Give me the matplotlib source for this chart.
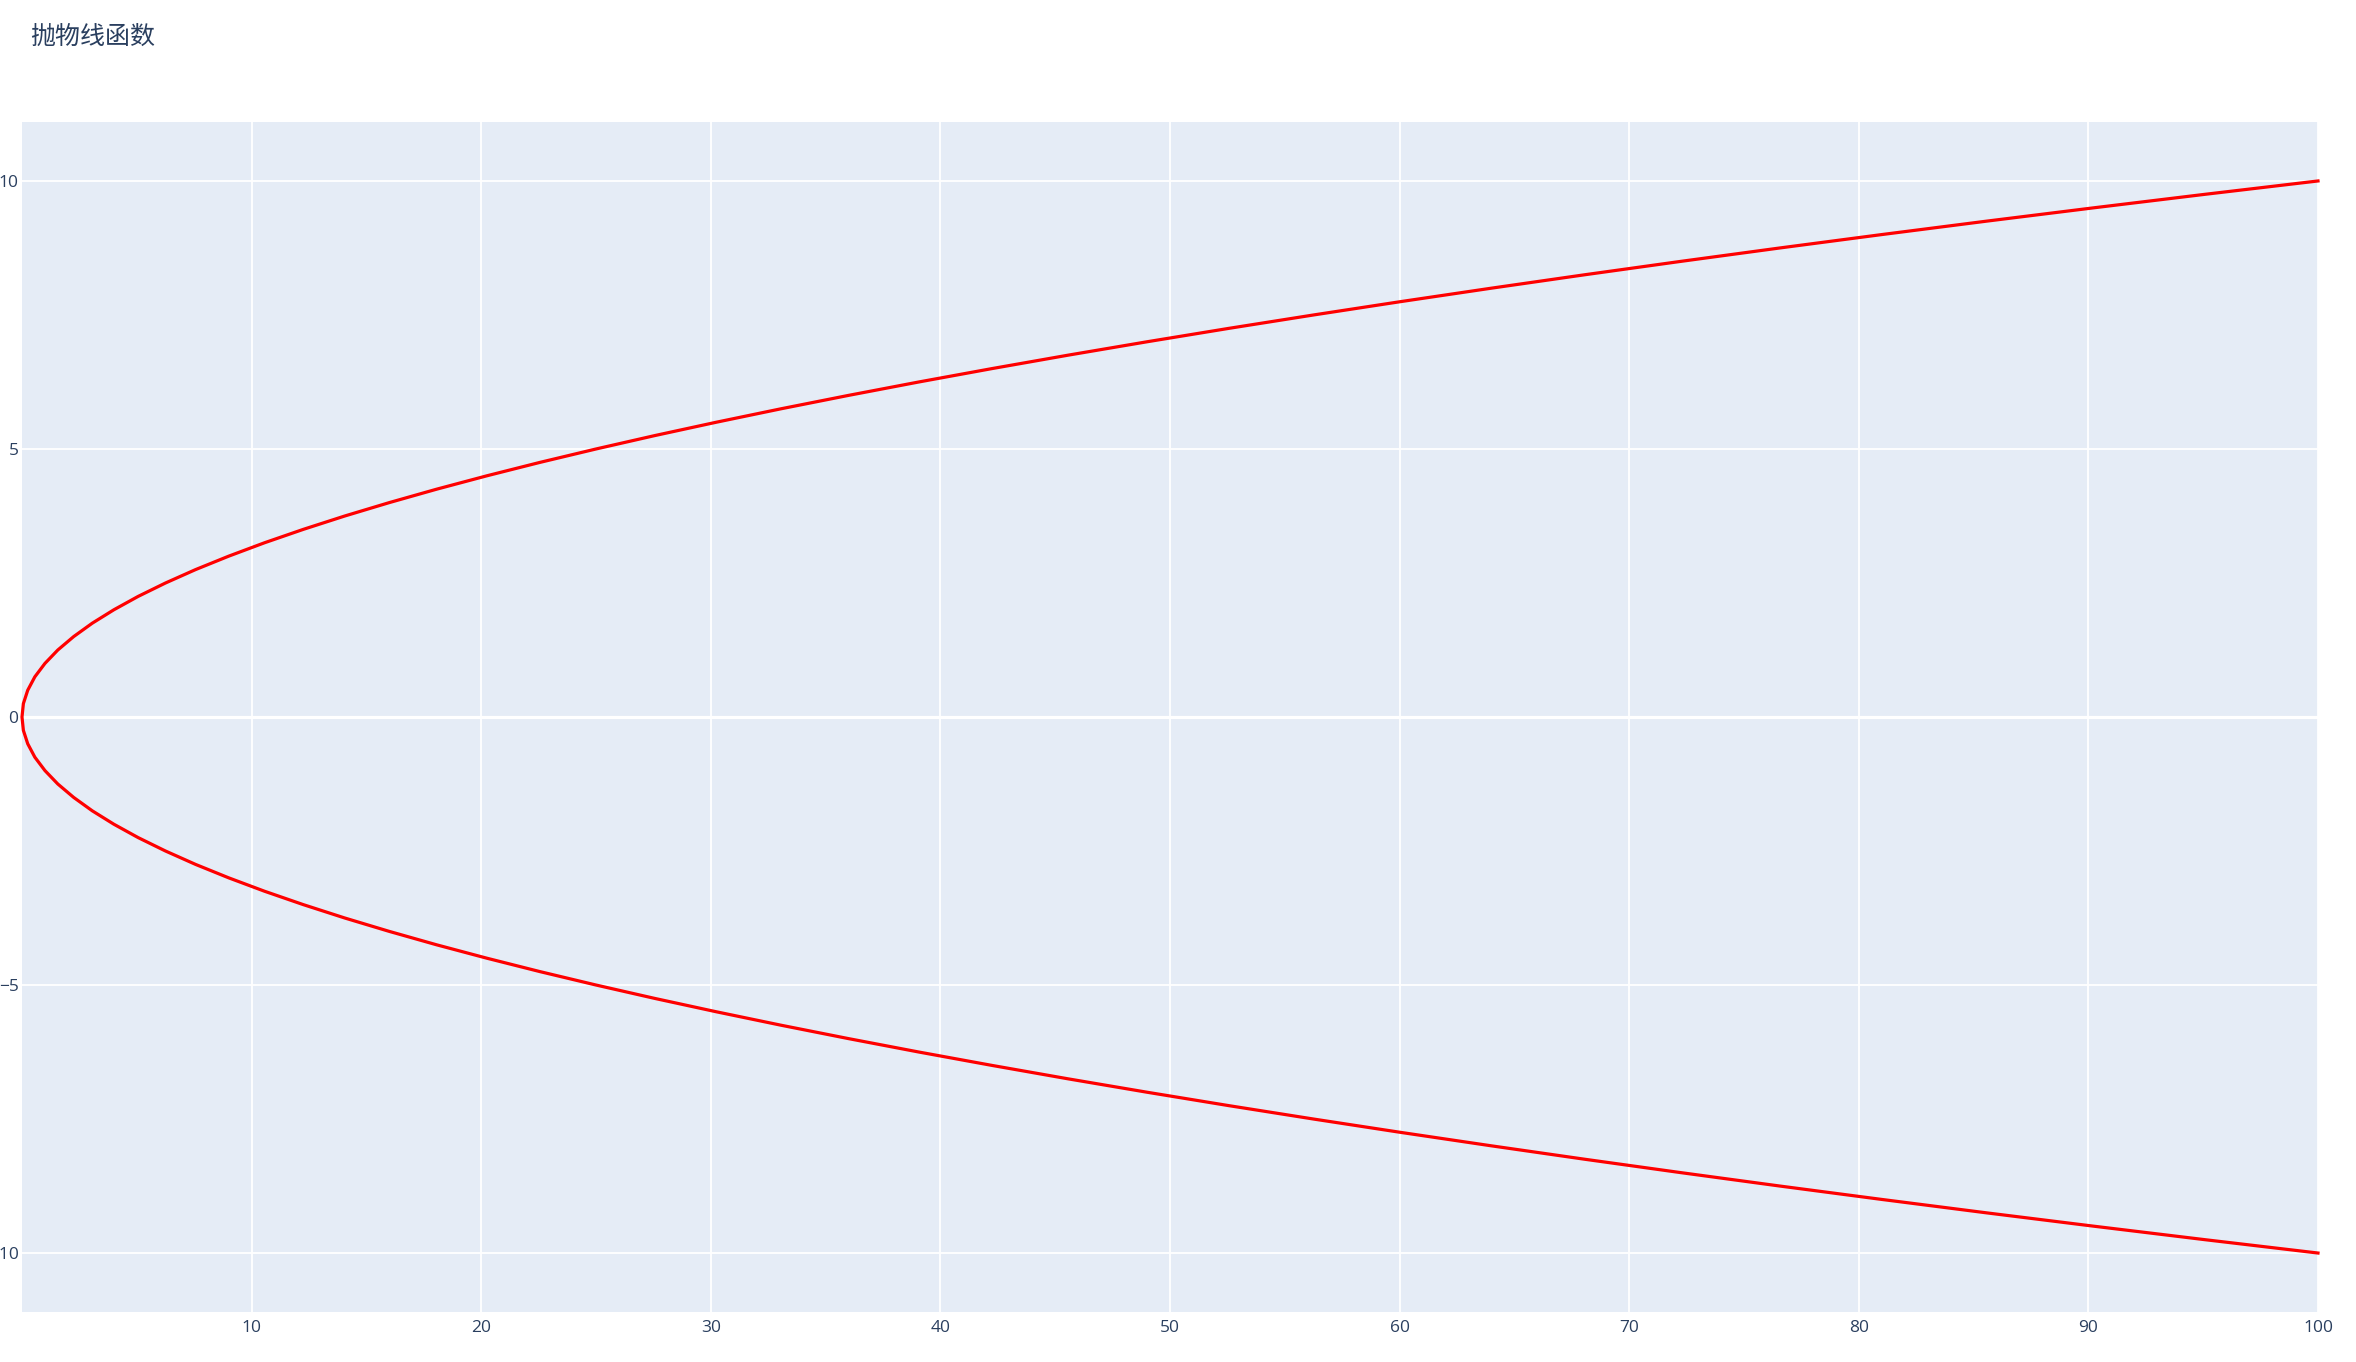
import matplotlib
matplotlib.use('Agg')
import matplotlib.pyplot as plt

# -----------------------------
# Data: x = y^2, y from -10 to 10
# -----------------------------
y_vals = [-10, -9.75, -9.5, -9.25, -9, -8.75, -8.5, -8.25, -8, -7.75,
          -7.5, -7.25, -7, -6.75, -6.5, -6.25, -6, -5.75, -5.5, -5.25,
          -5, -4.75, -4.5, -4.25, -4, -3.75, -3.5, -3.25, -3, -2.75,
          -2.5, -2.25, -2, -1.75, -1.5, -1.25, -1, -0.75, -0.5, -0.25,
          0,
          0.25, 0.5, 0.75, 1, 1.25, 1.5, 1.75, 2, 2.25, 2.5,
          2.75, 3, 3.25, 3.5, 3.75, 4, 4.25, 4.5, 4.75, 5,
          5.25, 5.5, 5.75, 6, 6.25, 6.5, 6.75, 7, 7.25, 7.5,
          7.75, 8, 8.25, 8.5, 8.75, 9, 9.25, 9.5, 9.75, 10]

x_vals = [100, 95.06, 90.25, 85.56, 81, 76.56, 72.25, 68.06, 64, 60.06,
          56.25, 52.56, 49, 45.56, 42.25, 39.06, 36, 33.06, 30.25, 27.56,
          25, 22.56, 20.25, 18.06, 16, 14.06, 12.25, 10.56, 9, 7.56,
          6.25, 5.06, 4, 3.06, 2.25, 1.56, 1, 0.56, 0.25, 0.06,
          0,
          0.06, 0.25, 0.56, 1, 1.56, 2.25, 3.06, 4, 5.06, 6.25,
          7.56, 9, 10.56, 12.25, 14.06, 16, 18.06, 20.25, 22.56, 25,
          27.56, 30.25, 33.06, 36, 39.06, 42.25, 45.56, 49, 52.56, 56.25,
          60.06, 64, 68.06, 72.25, 76.56, 81, 85.56, 90.25, 95.06, 100]

x_ticks = [10, 20, 30, 40, 50, 60, 70, 80, 90, 100]
y_ticks = [-10, -5, 0, 5, 10]
title = '抛物线函数'

# -----------------------------
# Figure
# -----------------------------
W, H = 2356, 1362
fig = plt.figure(figsize=(W / 100, H / 100), dpi=100)
ax = fig.add_axes([22 / W, 50 / H, 2296 / W, 1190 / H])

ax.set_facecolor('#E5ECF6')
ax.plot(x_vals, y_vals, color='red', lw=2.3, zorder=3, clip_on=False)

ax.set_xlim(0, 100)
ax.set_ylim(-11.1, 11.1)
ax.set_xticks(x_ticks)
ax.set_yticks(y_ticks)
ax.grid(True, color='white', lw=1.3)
ax.set_axisbelow(True)
ax.axhline(0, color='white', lw=2.3, zorder=1)

for s in ax.spines.values():
    s.set_visible(False)

ax.tick_params(length=0, labelsize=12.5, labelcolor='#2a3f5f')
ax.tick_params(axis='x', pad=6)
ax.tick_params(axis='y', pad=2.5)
for lbl in ax.get_xticklabels() + ax.get_yticklabels():
    lbl.set_fontfamily(['Open Sans', 'DejaVu Sans'])

fig.text(30 / W, 1 - 37 / H, title, fontsize=18, color='#2a3f5f',
         va='center', ha='left', family=['Noto Sans CJK SC', 'DejaVu Sans'])

fig.savefig('out.png', dpi=100)
plt.close()
